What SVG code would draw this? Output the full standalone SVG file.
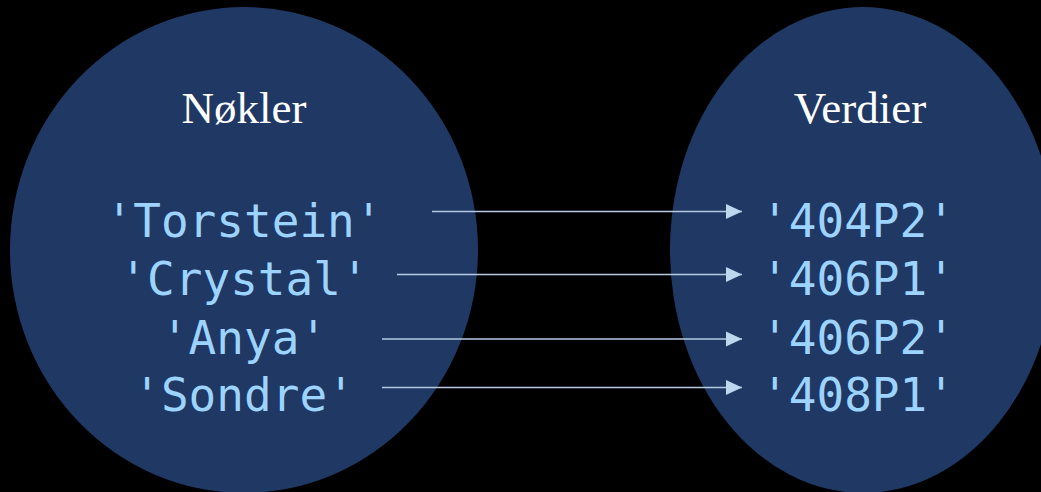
<svg xmlns="http://www.w3.org/2000/svg" width="1041" height="492" viewBox="0 0 1041 492">
  <defs>
    <style>
      .set { fill: #203864; }
      .title { font-family: "Liberation Serif", "DejaVu Serif", serif; font-size: 45px; fill: #ffffff; text-anchor: middle; }
      .item { font-family: "DejaVu Sans Mono", "Liberation Mono", monospace; font-size: 46px; fill: #9dd3ff; text-anchor: middle; }
      .map { stroke: #b4cbe3; stroke-width: 1.5; fill: none; marker-end: url(#head); }
    </style>
    <marker id="head" markerWidth="16" markerHeight="16" refX="16" refY="8" orient="auto" markerUnits="userSpaceOnUse">
      <path d="M0,0.5 L16,8 L0,15.5 Z" fill="#bdd7ee"/>
    </marker>
  </defs>
  <rect width="1041" height="492" fill="#000000"/>

  <!-- keys set -->
  <g id="keys">
    <ellipse class="set" cx="244" cy="250" rx="234" ry="243"/>
    <text class="title" x="244" y="123">Nøkler</text>
    <text class="item" x="244" y="237">'Torstein'</text>
    <text class="item" x="244" y="295">'Crystal'</text>
    <text class="item" x="244" y="354">'Anya'</text>
    <text class="item" x="244" y="411">'Sondre'</text>
  </g>

  <!-- values set -->
  <g id="values">
    <ellipse class="set" cx="863" cy="250" rx="193" ry="243"/>
    <text class="title" x="860" y="123">Verdier</text>
    <text class="item" x="858" y="237">'404P2'</text>
    <text class="item" x="858" y="295">'406P1'</text>
    <text class="item" x="858" y="354">'406P2'</text>
    <text class="item" x="858" y="411">'408P1'</text>
  </g>

  <!-- key to value mappings -->
  <g id="connectors">
    <line class="map" x1="432" y1="211.5" x2="742" y2="211.5"/>
    <line class="map" x1="397" y1="274.5" x2="742" y2="274.5"/>
    <line class="map" x1="382" y1="339" x2="742" y2="339"/>
    <line class="map" x1="382" y1="387.5" x2="742" y2="387.5"/>
  </g>
</svg>
